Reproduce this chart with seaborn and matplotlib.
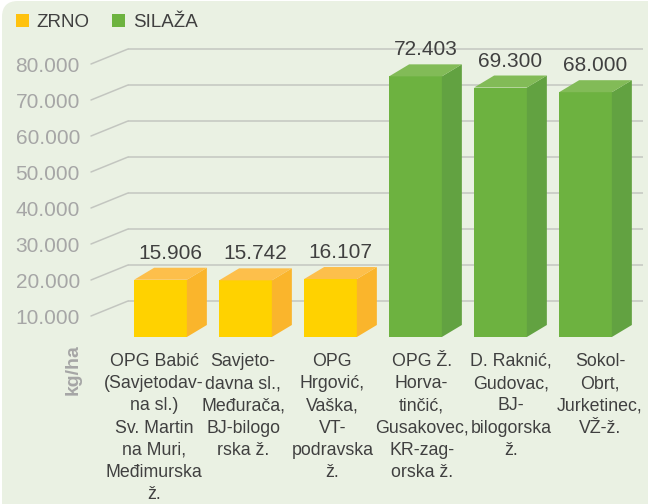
import matplotlib
matplotlib.use("Agg")
import numpy as np
import pandas as pd
import matplotlib.pyplot as plt
import seaborn as sns
from matplotlib.patches import Polygon, FancyBboxPatch

# ------------------------------------------------------------------
# Data
# ------------------------------------------------------------------
farms = [
    "OPG Babić\n(Savjetodav-\nna sl.)\nSv. Martin\nna Muri,\nMeđimurska\nž.",
    "Savjeto-\ndavna sl.,\nMeđurača,\nBJ-bilogo\nrska ž.",
    "OPG\nHrgović,\nVaška,\nVT-\npodravska\nž.",
    "OPG Ž.\nHorva-\ntinčić,\nGusakovec,\nKR-zag-\norska ž.",
    "D. Raknić,\nGudovac,\nBJ-\nbilogorska\nž.",
    "Sokol-\nObrt,\nJurketinec,\nVŽ-ž.",
]
yields = [15906, 15742, 16107, 72403, 69300, 68000]
crop = ["ZRNO", "ZRNO", "ZRNO", "SILAŽA", "SILAŽA", "SILAŽA"]
y_ticks = [10000, 20000, 30000, 40000, 50000, 60000, 70000, 80000]

# colours: front / side / top of the 3d boxes
front = {"ZRNO": "#FFD200", "SILAŽA": "#6DB240"}
side = {"ZRNO": "#FAB52C", "SILAŽA": "#62A241"}
top = {"ZRNO": "#FDBF4B", "SILAŽA": "#82BB57"}
legend_col = {"ZRNO": "#FFC20E", "SILAŽA": "#6DB33F"}

BG = "#EAF1E3"
GRID = "#C3C6C0"
TXT = "#404040"
TICK = "#A6A6A6"

sns.set_theme(style="white")
plt.rcParams["font.family"] = ["Liberation Sans", "DejaVu Sans"]

df = pd.DataFrame({"farm": farms, "yield": yields, "crop": crop})

W, H, DPI = 6.48, 5.04, 100
fig = plt.figure(figsize=(W, H), dpi=DPI, facecolor="white")
fig.add_artist(FancyBboxPatch((0.02, -0.3), 7.0, H - 0.01 + 0.3,
                              boxstyle="round,pad=0,rounding_size=0.16",
                              transform=fig.dpi_scale_trans, facecolor=BG,
                              edgecolor="none", zorder=-5))

# axes: zero line at 337 px from top, 36 px per 10.000, categories 85 px apart
ax = fig.add_axes([0, 167 / 504, 1, 317 / 504])
PX_X = 1 / 85
PX_Y = 10000 / 36

sns.barplot(data=df, x="farm", y="yield", hue="crop", palette=front,
            width=0.62, dodge=False, saturation=1, linewidth=0, ax=ax,
            zorder=3)
ax.set_xlim(-160.5 * PX_X, (648 - 160.5) * PX_X)
ax.set_ylim(0, 317 * PX_Y)
ax.axis("off")

# back wall gridlines with the slanted connector to the tick labels
gx0 = (128 - 160.5) * PX_X
gx1 = (643 - 160.5) * PX_X
dx_floor = 37 * PX_X
for t in y_ticks:
    ax.plot([gx0, gx1], [t, t], color=GRID, lw=1.1, zorder=1, solid_capstyle="butt")
    ax.plot([gx0 - dx_floor, gx0], [t - 15 * PX_Y, t], color=GRID, lw=1.1, zorder=1)
    ax.text(gx0 - dx_floor - 11 * PX_X, t - 17.5 * PX_Y, f"{t:,}".replace(",", "."),
            ha="right", va="center", fontsize=15, color=TICK, clip_on=False)

# 3d side and top faces
bdx = 20 * PX_X
bdy = 12 * PX_Y
for p, c, v in zip(ax.patches, crop, yields):
    x0, w, h = p.get_x(), p.get_width(), p.get_height()
    x1 = x0 + w
    ax.add_patch(Polygon([(x1, 0), (x1 + bdx, bdy), (x1 + bdx, h + bdy), (x1, h)],
                         closed=True, facecolor=side[c], edgecolor="none", zorder=3))
    ax.add_patch(Polygon([(x0, h), (x0 + bdx, h + bdy), (x1 + bdx, h + bdy), (x1, h)],
                         closed=True, facecolor=top[c], edgecolor="none", zorder=3))
    ax.text(x0 + (w + bdx) / 2, h + bdy + 9 * PX_Y, f"{v:,}".replace(",", "."),
            ha="center", va="baseline", fontsize=15, color=TXT, zorder=5)

# category labels
for i, lab in enumerate(farms):
    ax.text((154 - 160.5) * PX_X + i * 89.2 * PX_X, -16 * PX_Y, lab,
            ha="center", va="top", fontsize=12.8, color=TXT, linespacing=1.4,
            multialignment="center", clip_on=False)

ax.text(73 * PX_X - 160.5 * PX_X, -33 * PX_Y, "kg/ha", rotation=90,
        ha="center", va="center", fontsize=14, fontweight="bold", color=TICK,
        clip_on=False)

# legend
sns.move_legend(ax, "upper left", bbox_to_anchor=(16 / 648, 1 - 14 / 504),
                bbox_transform=fig.transFigure, ncol=2, frameon=False, title=None,
                fontsize=13.5, handlelength=0.7, handleheight=0.7,
                handletextpad=0.4, columnspacing=1.2, borderpad=0,
                borderaxespad=0, labelcolor=TXT)
leg = ax.get_legend()
for hnd, txt in zip(leg.legend_handles, leg.get_texts()):
    hnd.set_facecolor(legend_col[txt.get_text()])
    hnd.set_edgecolor("none")

fig.savefig("out.png", dpi=DPI, facecolor=fig.get_facecolor())
